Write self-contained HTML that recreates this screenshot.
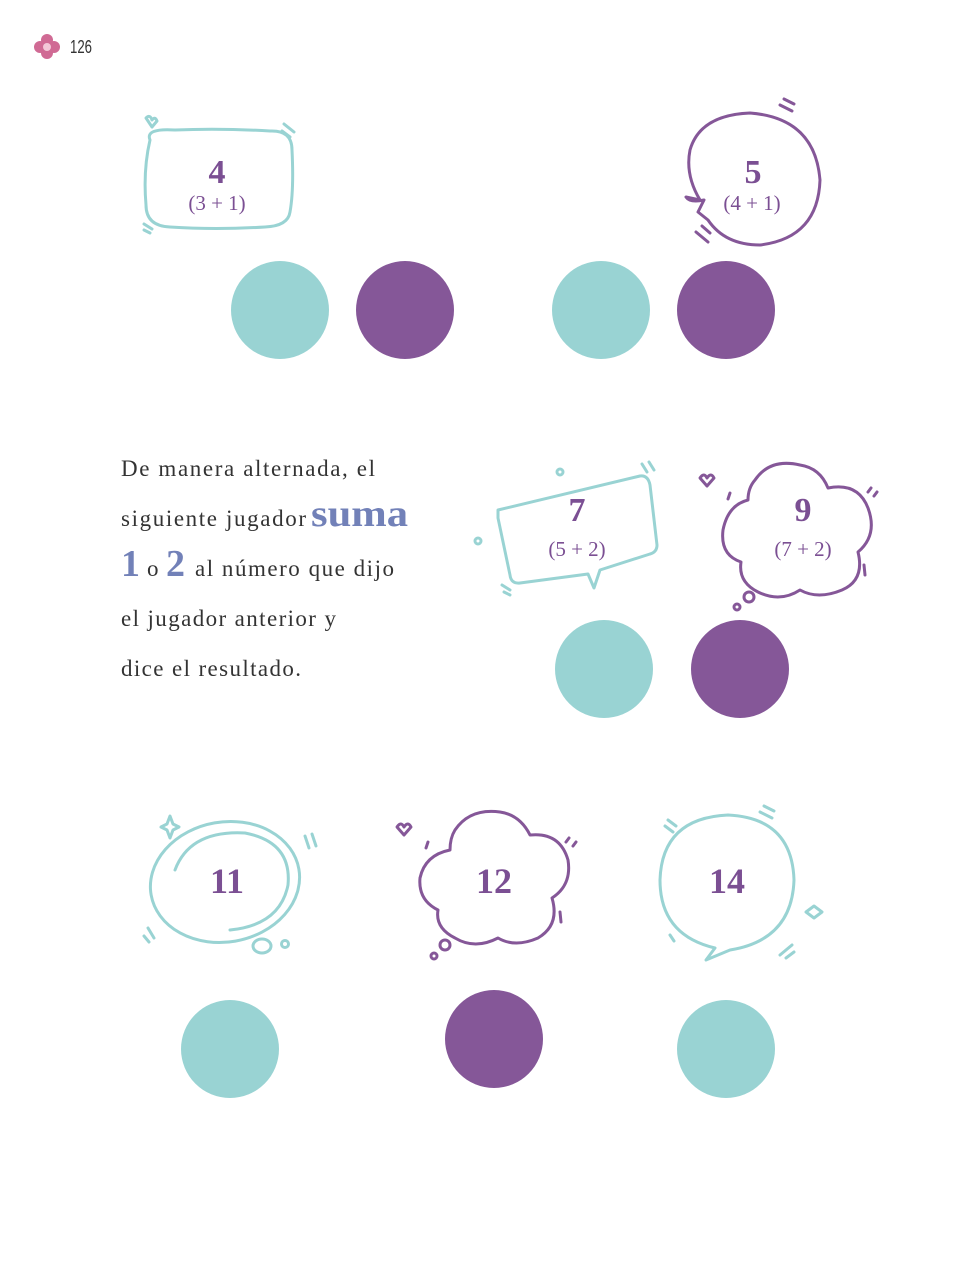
<!DOCTYPE html>
<html><head><meta charset="utf-8">
<style>
html,body{margin:0;padding:0;background:#fff;}
svg{display:block;}
.num{font-family:"Liberation Serif",serif;font-weight:bold;fill:#7b4f93;text-anchor:middle;}
.sub{font-family:"Liberation Serif",serif;fill:#7b4f93;text-anchor:middle;font-size:21px;}
.body{font-family:"Liberation Serif",serif;font-size:23px;fill:#333;}
.t{fill:none;stroke:#99d3d3;stroke-width:3;stroke-linecap:round;stroke-linejoin:round;}
.p{fill:none;stroke:#855798;stroke-width:3;stroke-linecap:round;stroke-linejoin:round;}
</style></head>
<body>
<svg width="969" height="1276" viewBox="0 0 969 1276">
<g>
  <g fill="#d06a94">
    <circle cx="47" cy="40" r="6"/><circle cx="40" cy="47" r="6"/><circle cx="54" cy="47" r="6"/><circle cx="47" cy="53" r="6"/><circle cx="47" cy="47" r="4" fill="#f3c7d7"/>
  </g>
  <text x="70" y="53" font-family="Liberation Sans,sans-serif" font-size="18" fill="#333" textLength="22" lengthAdjust="spacingAndGlyphs">126</text>
</g>

<!-- Row 1 -->
<g>
  <path class="t" d="M150 140 Q145 128 175 130 Q220 128 270 131 Q292 130 292 150 Q294 190 290 212 Q288 226 265 227 Q215 230 170 227 Q146 226 146 205 Q143 170 150 140Z"/>
  <path class="t" d="M284 124 l10 8 M282 131 l8 6 M144 224 l8 5 M144 230 l6 3"/>
  <path class="t" d="M146 118 q4 -4 6 2 q3 -4 5 1 l-5 6z" stroke-width="2"/>
  <text class="num" x="217" y="183" font-size="34">4</text>
  <text class="sub" x="217" y="210">(3 + 1)</text>
</g>
<g>
  <path class="p" d="M700 200 Q685 175 690 150 Q700 115 750 113 Q815 118 820 180 Q818 238 760 245 Q725 245 708 220 L698 212 L704 200 Q690 203 686 197Z"/>
  <path class="p" d="M780 105 l12 6 M784 99 l10 5 M696 232 l12 10 M702 226 l8 7"/>
  <text class="num" x="753" y="183" font-size="34">5</text>
  <text class="sub" x="752" y="210">(4 + 1)</text>
</g>
<circle cx="280" cy="310" r="49" fill="#99d3d3"/>
<circle cx="405" cy="310" r="49" fill="#855798"/>
<circle cx="601" cy="310" r="49" fill="#99d3d3"/>
<circle cx="726" cy="310" r="49" fill="#855798"/>

<!-- Instructions text -->
<g>
  <text class="body" x="121" y="476" textLength="254" lengthAdjust="spacing">De manera alternada, el</text>
  <text class="body" x="121" y="526" textLength="185" lengthAdjust="spacing">siguiente jugador</text>
  <text x="311" y="526" font-family="Liberation Serif,serif" font-size="38" font-weight="bold" fill="#7281b8" textLength="97" lengthAdjust="spacingAndGlyphs">suma</text>
  <text x="121" y="576" font-family="Liberation Serif,serif" font-size="38" font-weight="bold" fill="#7281b8">1</text>
  <text class="body" x="147" y="576">o</text>
  <text x="166" y="576" font-family="Liberation Serif,serif" font-size="38" font-weight="bold" fill="#7281b8">2</text>
  <text class="body" x="195" y="576" textLength="199" lengthAdjust="spacing">al número que dijo</text>
  <text class="body" x="121" y="626" textLength="215" lengthAdjust="spacing">el jugador anterior y</text>
  <text class="body" x="121" y="676" textLength="180" lengthAdjust="spacing">dice el resultado.</text>
</g>

<!-- Row 2 -->
<g>
  <path class="t" d="M498 510 L640 476 Q648 475 650 485 L657 545 Q657 552 650 554 L600 570 L594 588 L588 574 L520 583 Q511 584 510 575 L498 518Z"/>
  <circle class="t" cx="560" cy="472" r="3" stroke-width="1.5"/><circle class="t" cx="478" cy="541" r="3" stroke-width="1.5"/>
  <path class="t" d="M642 464 l5 8 M649 462 l5 8 M502 585 l8 5 M504 592 l6 3"/>
  <text class="num" x="577" y="521" font-size="34">7</text>
  <text class="sub" x="577" y="556">(5 + 2)</text>
</g>
<g>
  <path class="p" d="M755 480 Q770 458 800 465 Q820 468 828 488 Q858 482 868 508 Q878 535 858 552 Q865 580 842 590 Q818 600 800 590 Q780 603 758 592 Q738 582 741 562 Q720 555 723 530 Q728 505 748 500 Q748 488 755 480Z"/>
  <circle class="p" cx="749" cy="597" r="5" stroke-width="2.5"/><circle class="p" cx="737" cy="607" r="3" stroke-width="2"/>
  <path class="p" d="M700 478 q4 -6 7 0 q4 -6 7 0 l-7 8z" stroke-width="2"/>
  <path class="p" d="M868 492 l3 -4 M874 496 l3 -4 M864 565 l1 10 M730 493 l-2 6" stroke-width="2.5"/>
  <text class="num" x="803" y="521" font-size="34">9</text>
  <text class="sub" x="803" y="556">(7 + 2)</text>
</g>
<circle cx="604" cy="669" r="49" fill="#99d3d3"/>
<circle cx="740" cy="669" r="49" fill="#855798"/>

<!-- Row 3 -->
<g>
  <ellipse class="t" cx="225" cy="882" rx="75" ry="60" transform="rotate(-10 225 882)"/>
  <path class="t" d="M175 870 Q190 830 245 833 Q292 842 288 885 Q280 925 230 930"/>
  <ellipse class="t" cx="262" cy="946" rx="9" ry="7"/><circle class="t" cx="285" cy="944" r="3.5"/>
  <path class="t" d="M170 816 l3 8 l6 3 l-6 3 l-3 8 l-3 -8 l-6 -3 l6 -3z" stroke-width="2"/>
  <path class="t" d="M305 836 l4 12 M312 834 l4 12 M148 928 l6 10 M144 936 l5 6"/>
  <text class="num" x="227" y="893" font-size="36">11</text>
</g>
<g>
  <path class="p" d="M455 830 Q470 808 500 812 Q520 815 530 835 Q560 832 568 860 Q572 885 552 898 Q560 925 538 938 Q515 948 498 938 Q475 950 455 938 Q435 928 438 910 Q418 900 420 878 Q425 855 450 850 Q450 838 455 830Z"/>
  <circle class="p" cx="445" cy="945" r="5" stroke-width="2.5"/><circle class="p" cx="434" cy="956" r="3" stroke-width="2"/>
  <path class="p" d="M397 827 q4 -6 7 0 q4 -6 7 0 l-7 8z" stroke-width="2"/>
  <path class="p" d="M566 842 l3 -4 M573 846 l3 -4 M560 912 l1 10 M428 842 l-2 6" stroke-width="2.5"/>
  <text class="num" x="494" y="893" font-size="36">12</text>
</g>
<g>
  <path class="t" d="M715 948 Q660 935 660 880 Q662 818 728 815 Q792 818 794 880 Q792 940 730 950 L706 960 Z"/>
  <path class="t" d="M806 912 l8 -6 l8 6 l-8 6z" stroke-width="2"/>
  <path class="t" d="M665 826 l8 6 M668 820 l8 6 M760 812 l12 6 M764 806 l10 5 M780 955 l12 -10 M786 958 l8 -6 M670 935 l4 6"/>
  <text class="num" x="727" y="893" font-size="36">14</text>
</g>
<circle cx="230" cy="1049" r="49" fill="#99d3d3"/>
<circle cx="494" cy="1039" r="49" fill="#855798"/>
<circle cx="726" cy="1049" r="49" fill="#99d3d3"/>
</svg>
</body></html>
